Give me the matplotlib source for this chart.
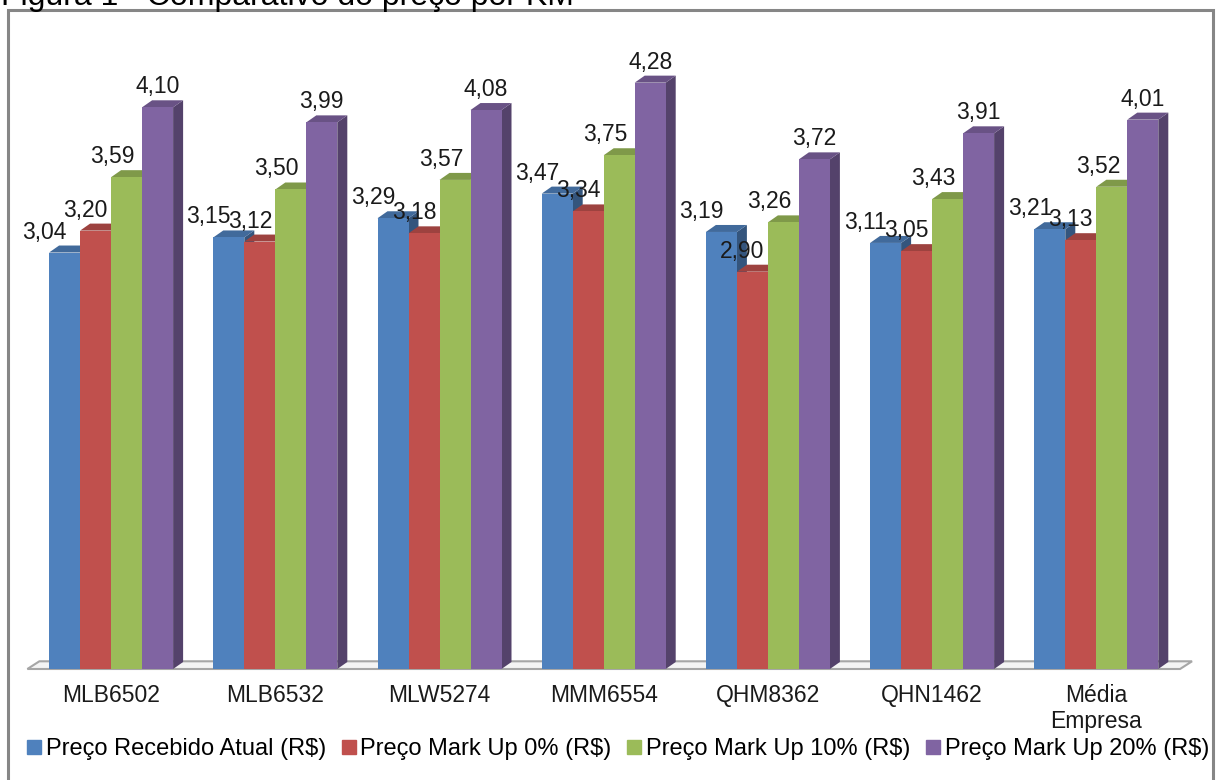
import matplotlib.pyplot as plt
import numpy as np
from matplotlib.patches import Polygon, Rectangle
from matplotlib.lines import Line2D
from matplotlib.colors import to_rgb

plt.rcParams['font.family'] = ['Liberation Sans', 'DejaVu Sans']

categories = ["MLB6502", "MLB6532", "MLW5274", "MMM6554", "QHM8362", "QHN1462", "Média\nEmpresa"]
series_names = ["Preço Recebido Atual (R$)", "Preço Mark Up 0% (R$)",
                "Preço Mark Up 10% (R$)", "Preço Mark Up 20% (R$)"]
atual = [3.04, 3.15, 3.29, 3.47, 3.19, 3.11, 3.21]
mark0 = [3.20, 3.12, 3.18, 3.34, 2.90, 3.05, 3.13]
mark10 = [3.59, 3.50, 3.57, 3.75, 3.26, 3.43, 3.52]
mark20 = [4.10, 3.99, 4.08, 4.28, 3.72, 3.91, 4.01]
series = [atual, mark0, mark10, mark20]

colors = ["#4F81BD", "#C0504D", "#9BBB59", "#8064A2"]
label_shift = [-20, -10, -14, 0]  # pixels, label placement as in Excel 3D

W, H = 1221, 780
fig = plt.figure(figsize=(W / 100, H / 100), dpi=100)

# axes placed so that group pitch ~164 px and 1 unit ~137 px
ax = fig.add_axes([29 / W, (H - 669) / H, 1149.4 / W, 650.75 / H])
ax.set_xlim(-0.5, 6.5)
ax.set_ylim(0, 4.75)
ax.axis("off")

bw = 31 / 164.2
ddx = 10 / 164.2
ddy = 7 / 137

x = np.arange(len(categories))

# floor
floor = Polygon([(-0.51, 0), (6.51, 0), (6.51 + ddx * 1.2, ddy * 1.1), (-0.51 + ddx * 1.2, ddy * 1.1)],
                closed=True, facecolor="#F4F4F4", edgecolor="#A6A6A6", lw=1.5, zorder=1, clip_on=False)
ax.add_patch(floor)


def shade(c, f):
    r, g, b = to_rgb(c)
    return (r * f, g * f, b * f)


z = 2
for gi in range(len(categories)):
    for si, vals in enumerate(series):
        xl = x[gi] + (si - 2) * bw
        v = vals[gi]
        c = colors[si]
        side = Polygon([(xl + bw, 0), (xl + bw + ddx, ddy), (xl + bw + ddx, v + ddy), (xl + bw, v)],
                       closed=True, facecolor=shade(c, 0.66), edgecolor="none", zorder=z, clip_on=False)
        top = Polygon([(xl, v), (xl + ddx, v + ddy), (xl + bw + ddx, v + ddy), (xl + bw, v)],
                      closed=True, facecolor=shade(c, 0.82), edgecolor="none", zorder=z, clip_on=False)
        ax.add_patch(side)
        ax.add_patch(top)
        ax.bar(xl, v, width=bw, align="edge", color=c, zorder=z + 0.5, linewidth=0)
        ax.annotate(f"{v:.2f}".replace(".", ","), (xl + bw / 2, v), xytext=(label_shift[si], 14),
                    textcoords="offset pixels", ha="center", va="baseline", fontsize=16.5,
                    color="#1a1a1a", zorder=50, annotation_clip=False)
        z += 1

# category labels
for gi, cat in enumerate(categories):
    ax.text(x[gi], -0.11, cat, ha="center", va="top", fontsize=16.5, color="#1a1a1a",
            linespacing=1.15, transform=ax.transData, clip_on=False)

# legend
handles = [Line2D([], [], marker="s", linestyle="none", markersize=9.5, color=c) for c in colors]
fig.legend(handles, series_names, loc="center", bbox_to_anchor=(618 / W, 1 - 749 / H), ncol=4,
           frameon=False, fontsize=17, handlelength=0.6, handletextpad=0.2, columnspacing=0.65,
           borderpad=0, borderaxespad=0)

# frame around chart
fig.patches.append(Rectangle((8 / W, -0.05), (1213 - 8) / W, 1.05 - 10 / H,
                             transform=fig.transFigure, fill=False, edgecolor="#868686", lw=2.2))

# title (partially cut off at the top)
fig.text(1 / W, 1 - 5 / H, "Figura 1 - Comparativo do preço por KM", fontsize=23,
         ha="left", va="baseline", color="#000000")

fig.savefig("out.png", dpi=100)
